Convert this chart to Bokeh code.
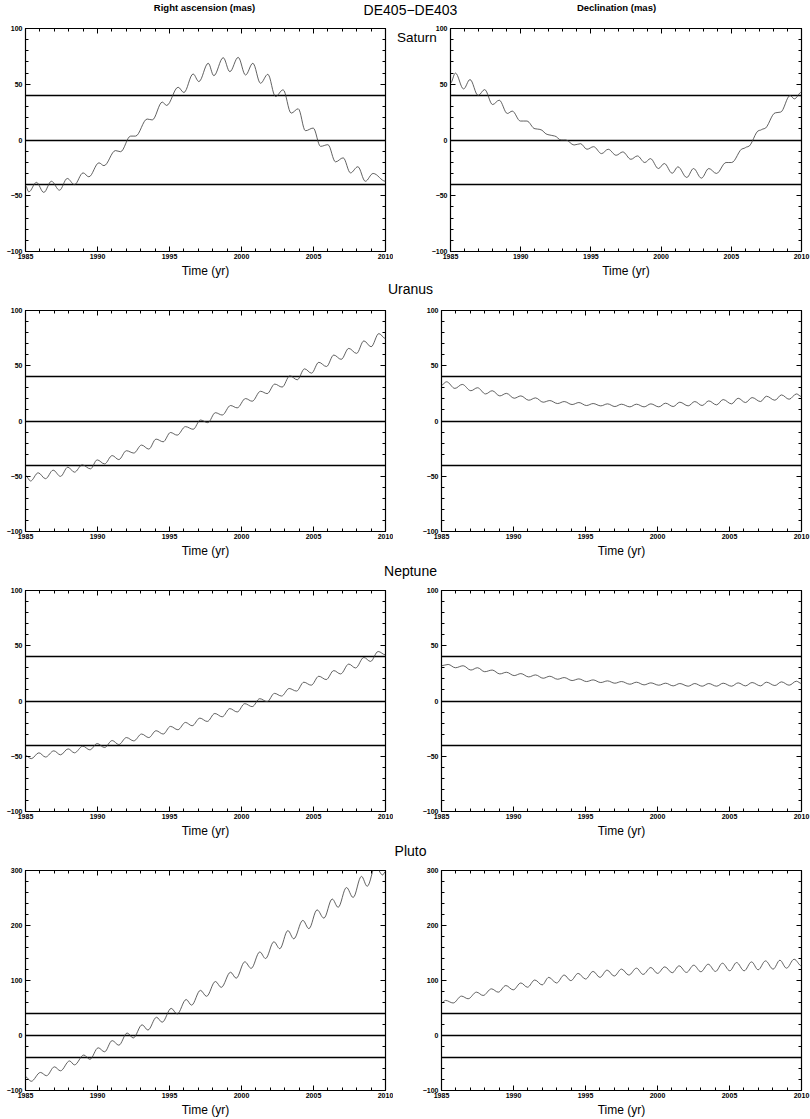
from bokeh.plotting import figure
from bokeh.layouts import column, row
from bokeh.models import Range1d, LinearAxis, SingleIntervalTicker, Label, ColumnDataSource
from bokeh.embed import file_html
from bokeh.resources import INLINE

# ---------------- data ----------------
planets = ["Saturn", "Uranus", "Neptune", "Pluto"]
column_titles = ["Right ascension (mas)", "Declination (mas)"]
main_title = "DE405\u2212DE403"
x_label = "Time (yr)"
time_span = [1985, 2010]
ref_levels = [-40, 0, 40]
y_limits = [[-100, 100], [-100, 100], [-100, 100], [-100, 300]]
y_steps = [50, 50, 50, 100]

# key points (turning points / shoulders): time (yr), value (mas)
saturn_ra_t = [1985.0, 1985.23, 1985.76, 1986.27, 1986.8, 1987.36, 1987.9, 1988.4, 1989.0, 1989.4,
               1990.1, 1990.45, 1991.25, 1991.6, 1992.3, 1992.64, 1993.45, 1993.8, 1994.5, 1994.8,
               1995.6, 1996.0, 1996.64, 1997.04, 1997.69, 1998.08, 1998.73, 1999.19, 1999.77, 2000.28,
               2000.79, 2001.32, 2001.83, 2002.36, 2002.89, 2003.45, 2003.94, 2004.44, 2004.98, 2005.49,
               2006.0, 2006.53, 2007.06, 2007.57, 2008.08, 2008.6, 2009.14, 2010.0]
saturn_ra_v = [-41, -46.5, -38, -47, -37, -45, -34.5, -40, -29.5, -33,
               -20.5, -23, -9.5, -10.5, 3.5, 3.5, 18.8, 18, 34, 31,
               47.3, 42.6, 59.2, 52.4, 68.8, 57.7, 73.8, 61.3, 74.1, 58.3,
               68.8, 50.9, 58.9, 39, 45, 24.1, 28, 8.3, 10.7, -5.7,
               -4.2, -19.6, -16, -29.5, -24, -37, -30, -37]

saturn_dec_t = [1985.0, 1985.35, 1985.93, 1986.39, 1986.97, 1987.43, 1988.0, 1988.47, 1989.05, 1989.4,
                1989.98, 1990.44, 1991.02, 1991.37, 1991.94, 1992.41, 1992.87, 1993.22, 1993.8, 1994.26,
                1994.72, 1995.19, 1995.76, 1996.23, 1996.8, 1997.27, 1997.85, 1998.31, 1998.84, 1999.24,
                1999.81, 2000.23, 2000.79, 2001.2, 2001.83, 2002.31, 2002.87, 2003.4, 2003.94, 2004.63,
                2005.02, 2005.83, 2006.18, 2006.99, 2007.34, 2008.15, 2008.5, 2009.19, 2009.49, 2010.0]
saturn_dec_v = [51, 60, 45.8, 54.2, 39.9, 45.2, 31.8, 35.7, 23.8, 25.9,
                17, 17, 10.1, 9.5, 4.8, 3.6, 0, 0, -4.5, -3.3,
                -8.3, -6, -12.2, -8.3, -13.7, -10.7, -17.3, -14.3, -20.2, -16.7,
                -25.6, -21.1, -29.8, -24.1, -33.6, -25.6, -34.2, -25.6, -30, -20.2,
                -20.2, -7.7, -6, 8.6, 10.1, 24.4, 25, 39.9, 36.9, 42.9]

uranus_ra_t = [1985.0, 1985.35, 1985.88, 1986.39, 1986.92, 1987.43, 1987.94, 1988.4, 1988.94, 1989.51,
               1989.98, 1990.49, 1991.02, 1991.48, 1992.01, 1992.52, 1993.06, 1993.56, 1994.07, 1994.56,
               1995.07, 1995.53, 1996.11, 1996.64, 1997.15, 1997.66, 1998.19, 1998.66, 1999.24, 1999.7,
               2000.28, 2000.74, 2001.32, 2001.78, 2002.31, 2002.82, 2003.36, 2003.87, 2004.38, 2004.86,
               2005.37, 2005.9, 2006.41, 2006.92, 2007.45, 2007.99, 2008.5, 2009.0, 2009.54, 2010.0]
uranus_ra_v = [-49.3, -54.3, -46.9, -52.2, -44.5, -50.1, -41.8, -46.3, -39.7, -43.3,
               -35.2, -38.8, -31.3, -34.9, -26.9, -29, -21.8, -25.4, -16.4, -18.8,
               -10.4, -12.8, -5.1, -7.5, 0.9, -1.5, 7.5, 5.4, 14, 11.9,
               20.3, 17.9, 26.9, 24.8, 33.4, 30.7, 40.9, 37.3, 47.2, 43.3,
               53.1, 49.3, 59.7, 55.8, 65.7, 61.2, 72.5, 67.2, 79.1, 74.6]

uranus_dec_t = [1985.0, 1985.35, 1985.93, 1986.44, 1987.04, 1987.5, 1988.06, 1988.52, 1989.05, 1989.51,
                1990.05, 1990.51, 1991.06, 1991.53, 1992.06, 1992.52, 1993.06, 1993.52, 1994.07, 1994.54,
                1995.07, 1995.53, 1996.06, 1996.53, 1997.04, 1997.5, 1998.08, 1998.54, 1999.07, 1999.54,
                2000.09, 2000.56, 2001.09, 2001.55, 2002.13, 2002.59, 2003.1, 2003.56, 2004.1, 2004.56,
                2005.14, 2005.6, 2006.11, 2006.57, 2007.15, 2007.57, 2008.15, 2008.61, 2009.14, 2009.65, 2010.0]
uranus_dec_v = [32.5, 35.5, 29.5, 33.1, 27.4, 30.1, 24.5, 27.4, 22.7, 25,
                20.6, 22.7, 18.8, 20.9, 17, 18.5, 15.8, 17.6, 14.9, 16.7,
                14, 15.8, 13.7, 15.5, 13.1, 15.2, 12.8, 15.2, 12.8, 15.5,
                12.8, 16.1, 13.1, 17, 13.7, 17.6, 14, 18.2, 14.6, 19.4,
                15.5, 20.6, 16.7, 21.2, 17.6, 22.4, 18.8, 23.6, 19.7, 24.5, 22.1]

neptune_ra_t = [1985.0, 1985.4, 1985.93, 1986.39, 1986.97, 1987.43, 1987.96, 1988.4, 1988.98, 1989.47,
                1989.98, 1990.49, 1991.02, 1991.48, 1992.01, 1992.52, 1993.06, 1993.56, 1994.07, 1994.56,
                1995.07, 1995.58, 1996.11, 1996.57, 1997.11, 1997.62, 1998.15, 1998.66, 1999.19, 1999.7,
                2000.23, 2000.74, 2001.27, 2001.78, 2002.29, 2002.78, 2003.31, 2003.82, 2004.33, 2004.84,
                2005.37, 2005.88, 2006.41, 2006.88, 2007.45, 2007.92, 2008.5, 2008.96, 2009.49, 2010.0]
neptune_ra_v = [-49.3, -52.2, -46.9, -50.7, -45.1, -48.7, -43.3, -46.9, -40.9, -44.2,
                -38.5, -42.1, -35.8, -39.4, -33.1, -36.1, -29.9, -33.1, -26.9, -29.9,
                -23, -26, -19.4, -22.4, -15.5, -18.5, -11.3, -14.3, -6.9, -9.9,
                -2.4, -5.1, 2.1, -0.6, 6.9, 4.5, 11.3, 9, 17, 14.3,
                22.4, 19.4, 27.5, 24.5, 33.4, 29.9, 39.4, 35.8, 44.8, 41.8]

neptune_dec_t = [1985.0, 1985.46, 1985.97, 1986.5, 1987.04, 1987.5, 1988.0, 1988.52, 1989.05, 1989.51,
                 1990.05, 1990.51, 1991.06, 1991.53, 1992.06, 1992.52, 1993.06, 1993.52, 1994.07, 1994.54,
                 1995.07, 1995.53, 1996.06, 1996.53, 1997.04, 1997.5, 1998.08, 1998.54, 1999.07, 1999.54,
                 2000.09, 2000.56, 2001.09, 2001.55, 2002.13, 2002.59, 2003.1, 2003.56, 2004.1, 2004.56,
                 2005.14, 2005.6, 2006.11, 2006.57, 2007.15, 2007.57, 2008.15, 2008.61, 2009.14, 2009.65, 2010.0]
neptune_dec_v = [31.9, 33.1, 30.1, 31.9, 28, 30.1, 26.5, 28, 24.5, 26,
                 23, 24.8, 21.8, 23.6, 20.6, 22.4, 19.7, 21.2, 18.5, 20,
                 17.6, 19.1, 16.7, 18.2, 16.1, 17.6, 15.2, 17, 14.6, 16.4,
                 14.3, 16.1, 13.7, 15.8, 13.4, 15.8, 13.4, 15.8, 13.4, 16.1,
                 13.4, 16.4, 13.7, 16.7, 13.7, 17, 14, 17.3, 14.3, 17.9, 15.8]

pluto_ra_t = [1985.0, 1985.39, 1986.04, 1986.46, 1987.01, 1987.43, 1988.06, 1988.4, 1989.05, 1989.47,
              1990.05, 1990.49, 1991.02, 1991.48, 1992.06, 1992.48, 1993.1, 1993.5, 1994.1, 1994.49,
              1995.12, 1995.53, 1996.16, 1996.53, 1997.15, 1997.57, 1998.19, 1998.59, 1999.24, 1999.63,
              2000.23, 2000.67, 2001.27, 2001.67, 2002.25, 2002.66, 2003.22, 2003.63, 2004.26, 2004.68,
              2005.25, 2005.72, 2006.3, 2006.71, 2007.29, 2007.75, 2008.33, 2008.73, 2009.3, 2009.8, 2010.0]
pluto_ra_v = [-74.9, -83.3, -67.2, -73.1, -57, -64.2, -46.3, -53.4, -35.5, -43.3,
              -22.4, -29.6, -9.3, -17.6, 4.5, -4.5, 19.4, 9.9, 33.1, 24.2,
              49.3, 39.1, 65.4, 55.2, 82.1, 71.3, 98.2, 87.5, 115, 104.2,
              134, 122.1, 151.9, 140, 170.4, 157.9, 190.7, 175.8, 209.3, 194.3,
              228.4, 213.4, 248.1, 233.1, 269, 251, 289.3, 271.3, 308, 292, 298]

pluto_dec_t = [1985.0, 1985.28, 1985.81, 1986.39, 1986.85, 1987.43, 1987.89, 1988.47, 1988.94, 1989.47,
               1989.98, 1990.51, 1990.97, 1991.48, 1991.99, 1992.45, 1992.99, 1993.52, 1993.98, 1994.49,
               1995.0, 1995.53, 1996.0, 1996.5, 1996.99, 1997.5, 1998.01, 1998.54, 1999.0, 1999.54,
               2000.0, 2000.51, 2001.02, 2001.5, 2002.01, 2002.52, 2003.01, 2003.52, 2004.03, 2004.51,
               2005.02, 2005.49, 2006.02, 2006.53, 2006.99, 2007.5, 2008.03, 2008.5, 2008.96, 2009.49, 2010.0]
pluto_dec_v = [59.1, 63.8, 59.1, 71.6, 66.8, 78.8, 72.8, 84.8, 78.8, 90.8,
               83, 95.5, 87.8, 100.9, 92, 105.7, 95.5, 109.9, 99.7, 112.9,
               102.7, 116.5, 105.7, 118.9, 108.1, 120.7, 109.9, 122.4, 111.1, 123.6,
               112.9, 124.8, 114.1, 126.6, 114.7, 127.8, 115.9, 129.6, 116.5, 131.4,
               117.7, 132.6, 117.7, 133.8, 119.5, 135.6, 120.7, 136.8, 122.4, 138.6, 126.6]

ra_series = [(saturn_ra_t, saturn_ra_v), (uranus_ra_t, uranus_ra_v),
             (neptune_ra_t, neptune_ra_v), (pluto_ra_t, pluto_ra_v)]
dec_series = [(saturn_dec_t, saturn_dec_v), (uranus_dec_t, uranus_dec_v),
              (neptune_dec_t, neptune_dec_v), (pluto_dec_t, pluto_dec_v)]

# ---------------- styling / layout ----------------
FONT = "Liberation Sans"
FRAME_H = 224
LEFT_W, RIGHT_W = 393, 417
PAGE_W = 810


def smooth_source(t, v, k=0.36):
    n = min(len(t), len(v))
    x0, x1 = t[:n - 1], t[1:n]
    y0, y1 = v[:n - 1], v[1:n]
    cx0 = [a + k * (b - a) for a, b in zip(x0, x1)]
    cx1 = [b - k * (b - a) for a, b in zip(x0, x1)]
    return ColumnDataSource(dict(x0=x0, y0=y0, x1=x1, y1=y1,
                                 cx0=cx0, cy0=y0, cx1=cx1, cy1=y1))


def style_axis(ax, show_labels):
    ax.axis_line_color = None
    ax.major_tick_in = 5
    ax.major_tick_out = 0
    ax.minor_tick_in = 3
    ax.minor_tick_out = 0
    ax.major_tick_line_color = "black"
    ax.minor_tick_line_color = "black"
    ax.major_tick_line_width = 1
    ax.minor_tick_line_width = 1
    if show_labels:
        ax.major_label_text_font = FONT
        ax.major_label_text_font_style = "bold"
        ax.major_label_text_font_size = "7px"
        ax.major_label_text_color = "black"
        ax.major_label_standoff = 3
    else:
        ax.major_label_text_font_size = "1px"
        ax.major_label_text_color = None
        ax.major_label_standoff = 0


def panel(t, v, ylim, ystep, width, bl, br, bt, bb):
    p = figure(width=width, height=bt + FRAME_H + bb, output_backend="svg",
               toolbar_location=None, x_range=Range1d(*time_span), y_range=Range1d(*ylim),
               min_border_left=bl, min_border_right=br, min_border_top=bt,
               min_border_bottom=bb, background_fill_color="white",
               border_fill_color="white", outline_line_color="black",
               outline_line_width=1.2)
    p.grid.visible = False
    bottom = p.below[0]
    left = p.left[0]
    bottom.ticker = SingleIntervalTicker(interval=5, num_minor_ticks=5)
    left.ticker = SingleIntervalTicker(interval=ystep, num_minor_ticks=5)
    top = LinearAxis(ticker=SingleIntervalTicker(interval=5, num_minor_ticks=5))
    right = LinearAxis(ticker=SingleIntervalTicker(interval=ystep, num_minor_ticks=5))
    p.add_layout(top, "above")
    p.add_layout(right, "right")
    style_axis(bottom, True)
    style_axis(left, True)
    style_axis(top, False)
    style_axis(right, False)
    bottom.axis_label = x_label
    bottom.axis_label_text_font = FONT
    bottom.axis_label_text_font_style = "normal"
    bottom.axis_label_text_font_size = "12px"
    bottom.axis_label_text_color = "black"
    bottom.axis_label_standoff = 2
    bottom.major_label_standoff = 2

    p.hspan(y=ref_levels, line_color="black", line_width=1.3)
    p.bezier(x0="x0", y0="y0", x1="x1", y1="y1", cx0="cx0", cy0="cy0",
             cx1="cx1", cy1="cy1", source=smooth_source(t, v),
             line_color="#3a3a3a", line_width=0.8)
    return p


def text_band(h):
    b = figure(width=PAGE_W, height=h, output_backend="svg", toolbar_location=None,
               x_range=Range1d(0, PAGE_W), y_range=Range1d(0, h), min_border=0,
               x_axis_type=None, y_axis_type=None, outline_line_color=None,
               background_fill_color="white", border_fill_color="white")
    b.grid.visible = False
    return b


# header band
head = text_band(22)
head.add_layout(Label(x=204, y=15, text=column_titles[0], text_align="center",
                      text_baseline="middle", text_font=FONT, text_font_style="bold",
                      text_font_size="9.5px", text_color="black"))
head.add_layout(Label(x=616, y=15, text=column_titles[1], text_align="center",
                      text_baseline="middle", text_font=FONT, text_font_style="bold",
                      text_font_size="9.5px", text_color="black"))
head.add_layout(Label(x=410, y=13, text=main_title, text_align="center",
                      text_baseline="middle", text_font=FONT, text_font_size="14px",
                      text_color="black"))

items = [head]
bottoms = [28, 26, 26, 25]
for i, name in enumerate(planets):
    lt, lv = ra_series[i]
    dt, dv = dec_series[i]
    bt = 6
    bb = bottoms[i]
    if i > 0:
        band = text_band(24)
        band.add_layout(Label(x=410, y=16 if i == 1 else 14, text=name, text_align="center",
                              text_baseline="middle", text_font=FONT,
                              text_font_size="14px", text_color="black"))
        items.append(band)
    pl = panel(lt, lv, y_limits[i], y_steps[i], LEFT_W, 25, 8, bt, bb)
    pr = panel(dt, dv, y_limits[i], y_steps[i], RIGHT_W, 48, 9, bt, bb)
    if i == 0:
        lax = pr.left[0]
        lax.axis_label = "\u00a0\n" + name
        lax.axis_label_text_font = FONT
        lax.axis_label_text_font_style = "normal"
        lax.axis_label_text_font_size = "13.5px"
        lax.axis_label_text_color = "black"
        lax.axis_label_standoff = -8
        try:
            lax.axis_label_orientation = "horizontal"
        except Exception:
            pass
        try:
            lax.axis_label_align = "end"
        except Exception:
            pass
    items.append(row(pl, pr))

layout = column(*items)
open("out.html", "w").write(file_html(layout, INLINE))
